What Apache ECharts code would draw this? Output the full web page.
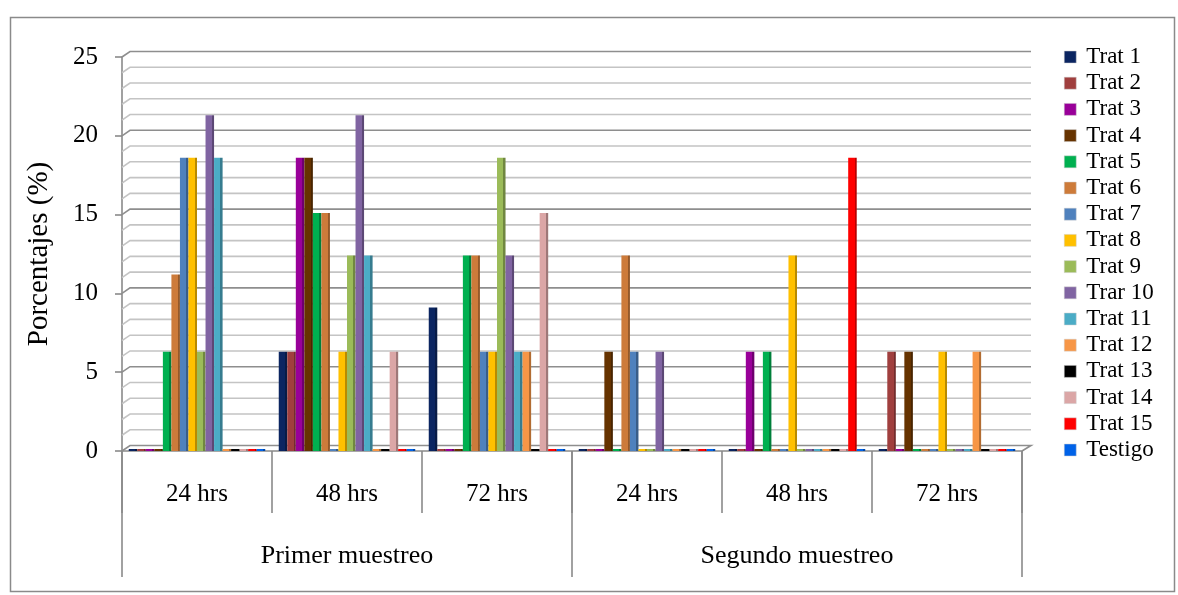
<!DOCTYPE html>
<html>
<head>
<meta charset="utf-8">
<title>Porcentajes por tratamiento</title>
<script src="https://cdn.jsdelivr.net/npm/echarts@6/dist/echarts.min.js"></script>
<style>
  html, body { margin: 0; padding: 0; background: #ffffff; }
  #chart { width: 1178px; height: 595px; }
</style>
</head>
<body>
<div id="chart"></div>
<script>
// Sampling times and sampling rounds
const times = ['24 hrs', '48 hrs', '72 hrs', '24 hrs', '48 hrs', '72 hrs'];
const rounds = ['Primer muestreo', 'Segundo muestreo'];

// Treatments shown in the legend
const treatments = ['Trat 1', 'Trat 2', 'Trat 3', 'Trat 4', 'Trat 5', 'Trat 6', 'Trat 7', 'Trat 8',
  'Trat 9', 'Trar 10', 'Trat 11', 'Trat 12', 'Trat 13', 'Trat 14', 'Trat 15', 'Testigo'];

// Percentage per treatment, one value per sampling time (in the order of `times`)
const trat1   = [0,    6.3,  9.1,  0,    0,    0];
const trat2   = [0,    6.3,  0,    0,    0,    6.3];
const trat3   = [0,    18.6, 0,    0,    6.3,  0];
const trat4   = [0,    18.6, 0,    6.3,  0,    6.3];
const trat5   = [6.3,  15.1, 12.4, 0,    6.3,  0];
const trat6   = [11.2, 15.1, 12.4, 12.4, 0,    0];
const trat7   = [18.6, 0,    6.3,  6.3,  0,    0];
const trat8   = [18.6, 6.3,  6.3,  0,    12.4, 6.3];
const trat9   = [6.3,  12.4, 18.6, 0,    0,    0];
const trat10  = [21.3, 21.3, 12.4, 6.3,  0,    0];
const trat11  = [18.6, 12.4, 6.3,  0,    0,    0];
const trat12  = [0,    0,    6.3,  0,    0,    6.3];
const trat13  = [0,    0,    0,    0,    0,    0];
const trat14  = [0,    6.3,  15.1, 0,    0,    0];
const trat15  = [0,    0,    0,    0,    18.6, 0];
const testigo = [0,    0,    0,    0,    0,    0];

const seriesValues = [trat1, trat2, trat3, trat4, trat5, trat6, trat7, trat8,
  trat9, trat10, trat11, trat12, trat13, trat14, trat15, testigo];

// Value axis ticks
const yTicks = [0, 5, 10, 15, 20, 25];

const palette = ['#0b2561', '#a03f3e', '#990099', '#663300', '#00b050', '#cd7b3a', '#4f81bd', '#ffc000',
  '#9bbb59', '#8064a2', '#4bacc6', '#f79646', '#000000', '#dba6a6', '#ff0000', '#0062e8'];

const FONT = '"Liberation Serif", "Times New Roman", serif';

// Darker tone used for the side face of each bar
function shade(hex, k) {
  const n = parseInt(hex.slice(1), 16);
  const r = Math.round(((n >> 16) & 255) * k);
  const g = Math.round(((n >> 8) & 255) * k);
  const b = Math.round((n & 255) * k);
  return 'rgb(' + r + ',' + g + ',' + b + ')';
}

function barFill(hex) {
  return {
    type: 'linear', x: 0, y: 0, x2: 1, y2: 0,
    colorStops: [
      { offset: 0, color: hex },
      { offset: 0.74, color: hex },
      { offset: 0.74, color: shade(hex, 0.72) },
      { offset: 1, color: shade(hex, 0.72) }
    ]
  };
}

// Back-wall gridlines: one per unit, with the short slanted link to the value axis
const gridLevels = [];
for (let v = yTicks[0]; v <= yTicks[yTicks.length - 1]; v++) gridLevels.push([0, v]);

const wallSeries = {
  type: 'custom',
  name: 'wall',
  silent: true,
  z: 1,
  clip: false,
  data: gridLevels,
  encode: { x: 0, y: 1 },
  renderItem: function (params, api) {
    const cs = params.coordSys;
    const v = api.value(1);
    const y = api.coord([0, v])[1];
    const x0 = cs.x, x1 = cs.x + cs.width;
    const dx = 8, dy = 5.5;
    const major = v % 5 === 0;
    const pts = [[x0, y], [x0 + dx, y - dy], [x1 + dx + 1, y - dy]];
    if (v === 0) pts.push([x1, y]);
    return {
      type: 'polyline',
      shape: { points: pts },
      style: {
        fill: null,
        stroke: major ? '#8e8e8e' : '#c4c4c4',
        lineWidth: 1.6
      }
    };
  }
};

const barSeries = treatments.map(function (name, i) {
  return {
    type: 'bar',
    name: name,
    xAxisIndex: 0,
    yAxisIndex: 0,
    z: 3,
    data: seriesValues[i],
    barGap: '0%',
    barCategoryGap: '9%',
    barMinHeight: 2,
    itemStyle: { color: barFill(palette[i]) },
    emphasis: { disabled: true }
  };
});

const chart = echarts.init(document.getElementById('chart'), null, { renderer: 'canvas' });

chart.setOption({
  backgroundColor: '#ffffff',
  animation: false,
  color: palette,
  textStyle: { fontFamily: FONT },
  graphic: [{
    type: 'rect',
    silent: true,
    shape: { x: 10.5, y: 17.5, width: 1164, height: 574 },
    style: { fill: null, stroke: '#8a8a8a', lineWidth: 1.5 }
  }],
  grid: {
    left: 122,
    right: 156,
    top: 57,
    bottom: 144,
    containLabel: false
  },
  legend: {
    orient: 'vertical',
    left: 1064,
    top: 45,
    itemWidth: 12,
    itemHeight: 12,
    itemGap: 2.2,
    padding: 0,
    icon: 'rect',
    selectedMode: false,
    data: treatments.map(function (n, i) {
      return { name: n, itemStyle: { color: palette[i], borderColor: '#d0d0d0', borderWidth: 0.5 } };
    }),
    textStyle: {
      fontFamily: FONT,
      fontSize: 23,
      lineHeight: 24,
      color: '#000000',
      padding: [0, 0, 0, 5]
    }
  },
  xAxis: [{
    type: 'category',
    data: times,
    position: 'bottom',
    offset: 0,
    axisLine: { show: true, lineStyle: { color: '#8a8a8a', width: 1.6 } },
    axisTick: { show: true, interval: 0, alignWithLabel: false, length: 62, lineStyle: { color: '#8a8a8a', width: 1.6 } },
    axisLabel: { interval: 0, margin: 31, fontFamily: FONT, fontSize: 25, color: '#000000' },
    splitLine: { show: false }
  }, {
    type: 'category',
    data: rounds,
    position: 'bottom',
    offset: 0,
    axisLine: { show: false },
    axisTick: { show: true, interval: 0, alignWithLabel: false, length: 126, lineStyle: { color: '#8a8a8a', width: 1.6 } },
    axisLabel: { interval: 0, margin: 92, fontFamily: FONT, fontSize: 26, color: '#000000' },
    splitLine: { show: false }
  }],
  yAxis: {
    type: 'value',
    min: yTicks[0],
    max: yTicks[yTicks.length - 1],
    interval: yTicks[1] - yTicks[0],
    name: 'Porcentajes (%)',
    nameLocation: 'middle',
    nameGap: 68,
    nameRotate: 90,
    nameTextStyle: { fontFamily: FONT, fontSize: 29, color: '#000000' },
    axisLine: { show: true, lineStyle: { color: '#8a8a8a', width: 1.6 } },
    axisTick: { show: true, inside: false, length: 7, lineStyle: { color: '#8a8a8a', width: 1.6 } },
    axisLabel: { margin: 24, fontFamily: FONT, fontSize: 25, color: '#000000' },
    splitLine: { show: false }
  },
  series: [wallSeries].concat(barSeries)
});
</script>
</body>
</html>
